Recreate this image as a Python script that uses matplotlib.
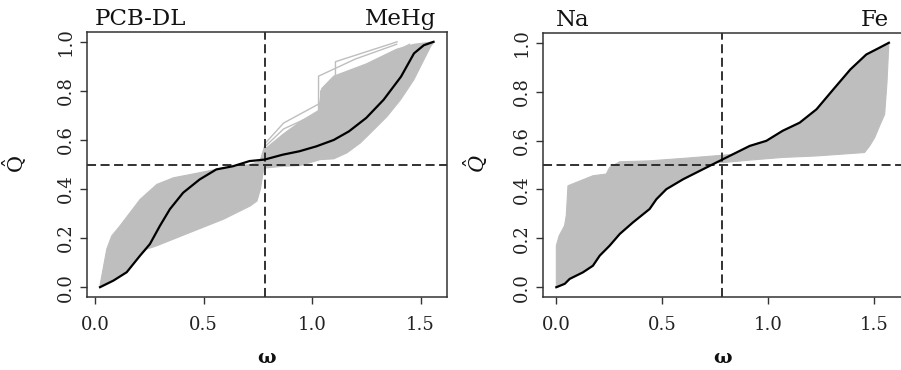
import numpy as np
import matplotlib
matplotlib.use("Agg")
from matplotlib import pyplot as plt
import matplotlib.transforms as mtrans

plt.rcParams['font.family'] = ['DejaVu Serif']
plt.rcParams['mathtext.fontset'] = 'dejavuserif'

GRAY = '#bebebe'
PI4 = np.pi / 4

# ---- left panel: PCB-DL / MeHg ----
pcb_black_x = [0.023, 0.085, 0.146, 0.207, 0.253, 0.299, 0.345, 0.406, 0.482, 0.559,
               0.636, 0.712, 0.781, 0.865, 0.942, 1.02, 1.10, 1.17, 1.25, 1.33,
               1.41, 1.47, 1.515, 1.56]
pcb_black_y = [0.0, 0.027, 0.061, 0.128, 0.176, 0.25, 0.318, 0.385, 0.439, 0.48,
               0.493, 0.514, 0.52, 0.54, 0.554, 0.574, 0.60, 0.635, 0.69, 0.764,
               0.858, 0.953, 0.986, 1.0]
pcb_upper_x = [0.023, 0.054, 0.077, 0.115, 0.208, 0.285, 0.362, 0.438, 0.592, 0.715,
               0.762, 0.786, 0.869, 0.955, 1.03, 1.045, 1.10, 1.25, 1.39, 1.47, 1.56]
pcb_upper_y = [0.007, 0.155, 0.209, 0.25, 0.358, 0.419, 0.446, 0.459, 0.486, 0.50,
               0.514, 0.565, 0.625, 0.68, 0.72, 0.81, 0.86, 0.91, 0.97, 0.99, 1.0]
pcb_lower_x = [0.023, 0.085, 0.146, 0.207, 0.238, 0.285, 0.438, 0.592, 0.715, 0.746,
               0.762, 0.777, 0.786, 0.869, 0.946, 1.038, 1.10, 1.16, 1.223, 1.285,
               1.346, 1.408, 1.469, 1.515, 1.546, 1.562]
pcb_lower_y = [0.0, 0.027, 0.061, 0.128, 0.155, 0.169, 0.223, 0.277, 0.331, 0.351,
               0.399, 0.48, 0.486, 0.493, 0.496, 0.52, 0.523, 0.547, 0.588, 0.642,
               0.696, 0.764, 0.845, 0.926, 0.98, 1.0]
# a few sparse curves standing out above the band
pcb_lines = [
    ([0.762, 0.786, 0.869, 1.038, 1.108, 1.108, 1.392],
     [0.514, 0.588, 0.669, 0.75, 0.764, 0.919, 1.0]),
    ([0.762, 0.786, 0.869, 1.03, 1.03, 1.20, 1.39],
     [0.514, 0.575, 0.645, 0.71, 0.86, 0.93, 0.99]),
    ([0.762, 0.786, 0.95, 1.04, 1.04, 1.25, 1.45],
     [0.514, 0.56, 0.64, 0.68, 0.80, 0.90, 0.99]),
]

# ---- right panel: Na / Fe ----
na_black_x = [0.0, 0.04, 0.063, 0.126, 0.173, 0.205, 0.252, 0.30, 0.362, 0.441,
              0.473, 0.52, 0.60, 0.678, 0.756, 0.835, 0.914, 0.993, 1.07, 1.15,
              1.23, 1.31, 1.39, 1.465, 1.528, 1.572]
na_black_y = [0.0, 0.014, 0.034, 0.061, 0.088, 0.129, 0.17, 0.218, 0.265, 0.32,
              0.36, 0.401, 0.442, 0.476, 0.51, 0.544, 0.578, 0.599, 0.64, 0.673,
              0.728, 0.81, 0.891, 0.952, 0.98, 1.0]
na_upper_x = [0.0, 0.0, 0.013, 0.039, 0.047, 0.055, 0.173, 0.236, 0.252, 0.299,
              0.441, 0.599, 0.788, 0.835, 0.914, 0.993, 1.07, 1.15, 1.23, 1.31,
              1.39, 1.465, 1.528, 1.572]
na_upper_y = [0.0, 0.17, 0.21, 0.252, 0.293, 0.415, 0.456, 0.463, 0.49, 0.513,
              0.517, 0.527, 0.54, 0.544, 0.578, 0.599, 0.64, 0.673, 0.728, 0.81,
              0.891, 0.952, 0.98, 1.0]
na_lower_x = [0.0, 0.04, 0.063, 0.126, 0.173, 0.205, 0.252, 0.30, 0.362, 0.441,
              0.473, 0.52, 0.60, 0.678, 0.756, 0.788, 0.914, 1.07, 1.229, 1.457,
              1.481, 1.505, 1.528, 1.552, 1.563, 1.572]
na_lower_y = [0.0, 0.014, 0.034, 0.061, 0.088, 0.129, 0.17, 0.218, 0.265, 0.32,
              0.36, 0.401, 0.442, 0.476, 0.51, 0.51, 0.52, 0.531, 0.537, 0.551,
              0.578, 0.612, 0.66, 0.707, 0.837, 1.0]

xticks = [0.0, 0.5, 1.0, 1.5]
xtick_labels = ['0.0', '0.5', '1.0', '1.5']
yticks = [0.0, 0.2, 0.4, 0.6, 0.8, 1.0]
ytick_labels = ['0.0', '0.2', '0.4', '0.6', '0.8', '1.0']

W, H = 901, 370
fig = plt.figure(figsize=(W / 100, H / 100), dpi=100)

panels = [
    dict(box=(87, 32, 447, 297), xlim=(-0.037, 1.622),
         black=(pcb_black_x, pcb_black_y), upper=(pcb_upper_x, pcb_upper_y),
         lower=(pcb_lower_x, pcb_lower_y), lines=pcb_lines,
         left='PCB-DL', right='MeHg', ylab=r'$\hat{\mathrm{Q}}$', ylab_x=15),
    dict(box=(543, 33, 902, 297), xlim=(-0.063, 1.634),
         black=(na_black_x, na_black_y), upper=(na_upper_x, na_upper_y),
         lower=(na_lower_x, na_lower_y), lines=[],
         left='Na', right='Fe', ylab=r'$\hat{Q}$', ylab_x=476),
]

for p in panels:
    x0, y0, x1, y1 = p['box']
    ax = fig.add_axes([x0 / W, 1 - y1 / H, (x1 - x0) / W, (y1 - y0) / H])
    ax.set_xlim(*p['xlim'])
    ax.set_ylim(-0.04, 1.04)

    ux, uy = p['upper']
    lx, ly = p['lower']
    ax.fill(np.r_[ux, lx[::-1]], np.r_[uy, ly[::-1]], color=GRAY, lw=0.8,
            ec=GRAY, zorder=1)
    for xs, ys in p['lines']:
        ax.plot(xs, ys, color=GRAY, lw=1.0, zorder=1)

    ax.axvline(PI4, color='#222222', lw=1.3, ls=(0, (5, 2.5)), zorder=2)
    ax.axhline(0.5, color='#222222', lw=1.3, ls=(0, (5, 2.5)), zorder=2)
    ax.plot(p['black'][0], p['black'][1], color='black', lw=1.6, zorder=3)

    ax.set_xticks(xticks)
    ax.set_xticklabels(xtick_labels)
    ax.set_yticks(yticks)
    ax.set_yticklabels(ytick_labels, rotation=90, va='center')
    ax.tick_params(axis='both', length=5, width=1.0, color='#333333',
                   labelsize=13, labelcolor='#222222')
    ax.tick_params(axis='x', pad=9)
    ax.tick_params(axis='y', pad=4)
    for s in ax.spines.values():
        s.set_linewidth(1.1)
        s.set_color('#333333')

    tr = mtrans.blended_transform_factory(ax.transData, ax.transAxes)
    ax.text(0.0, 1.026, p['left'], transform=tr, ha='left', va='baseline',
            fontsize=16.5, color='#111111', clip_on=False)
    ax.text(np.pi / 2, 1.026, p['right'], transform=tr, ha='right', va='baseline',
            fontsize=16.5, color='#111111', clip_on=False)

    fig.text(p['ylab_x'] / W, 1 - 164 / H, p['ylab'], rotation=90, ha='center',
             va='center', fontsize=15, color='#111111')
    fig.text((x0 + x1) / 2 / W, 1 - 358 / H, 'ω', ha='center', va='center',
             fontsize=14, fontweight='bold', color='#111111')

fig.savefig('out.png', dpi=100)
